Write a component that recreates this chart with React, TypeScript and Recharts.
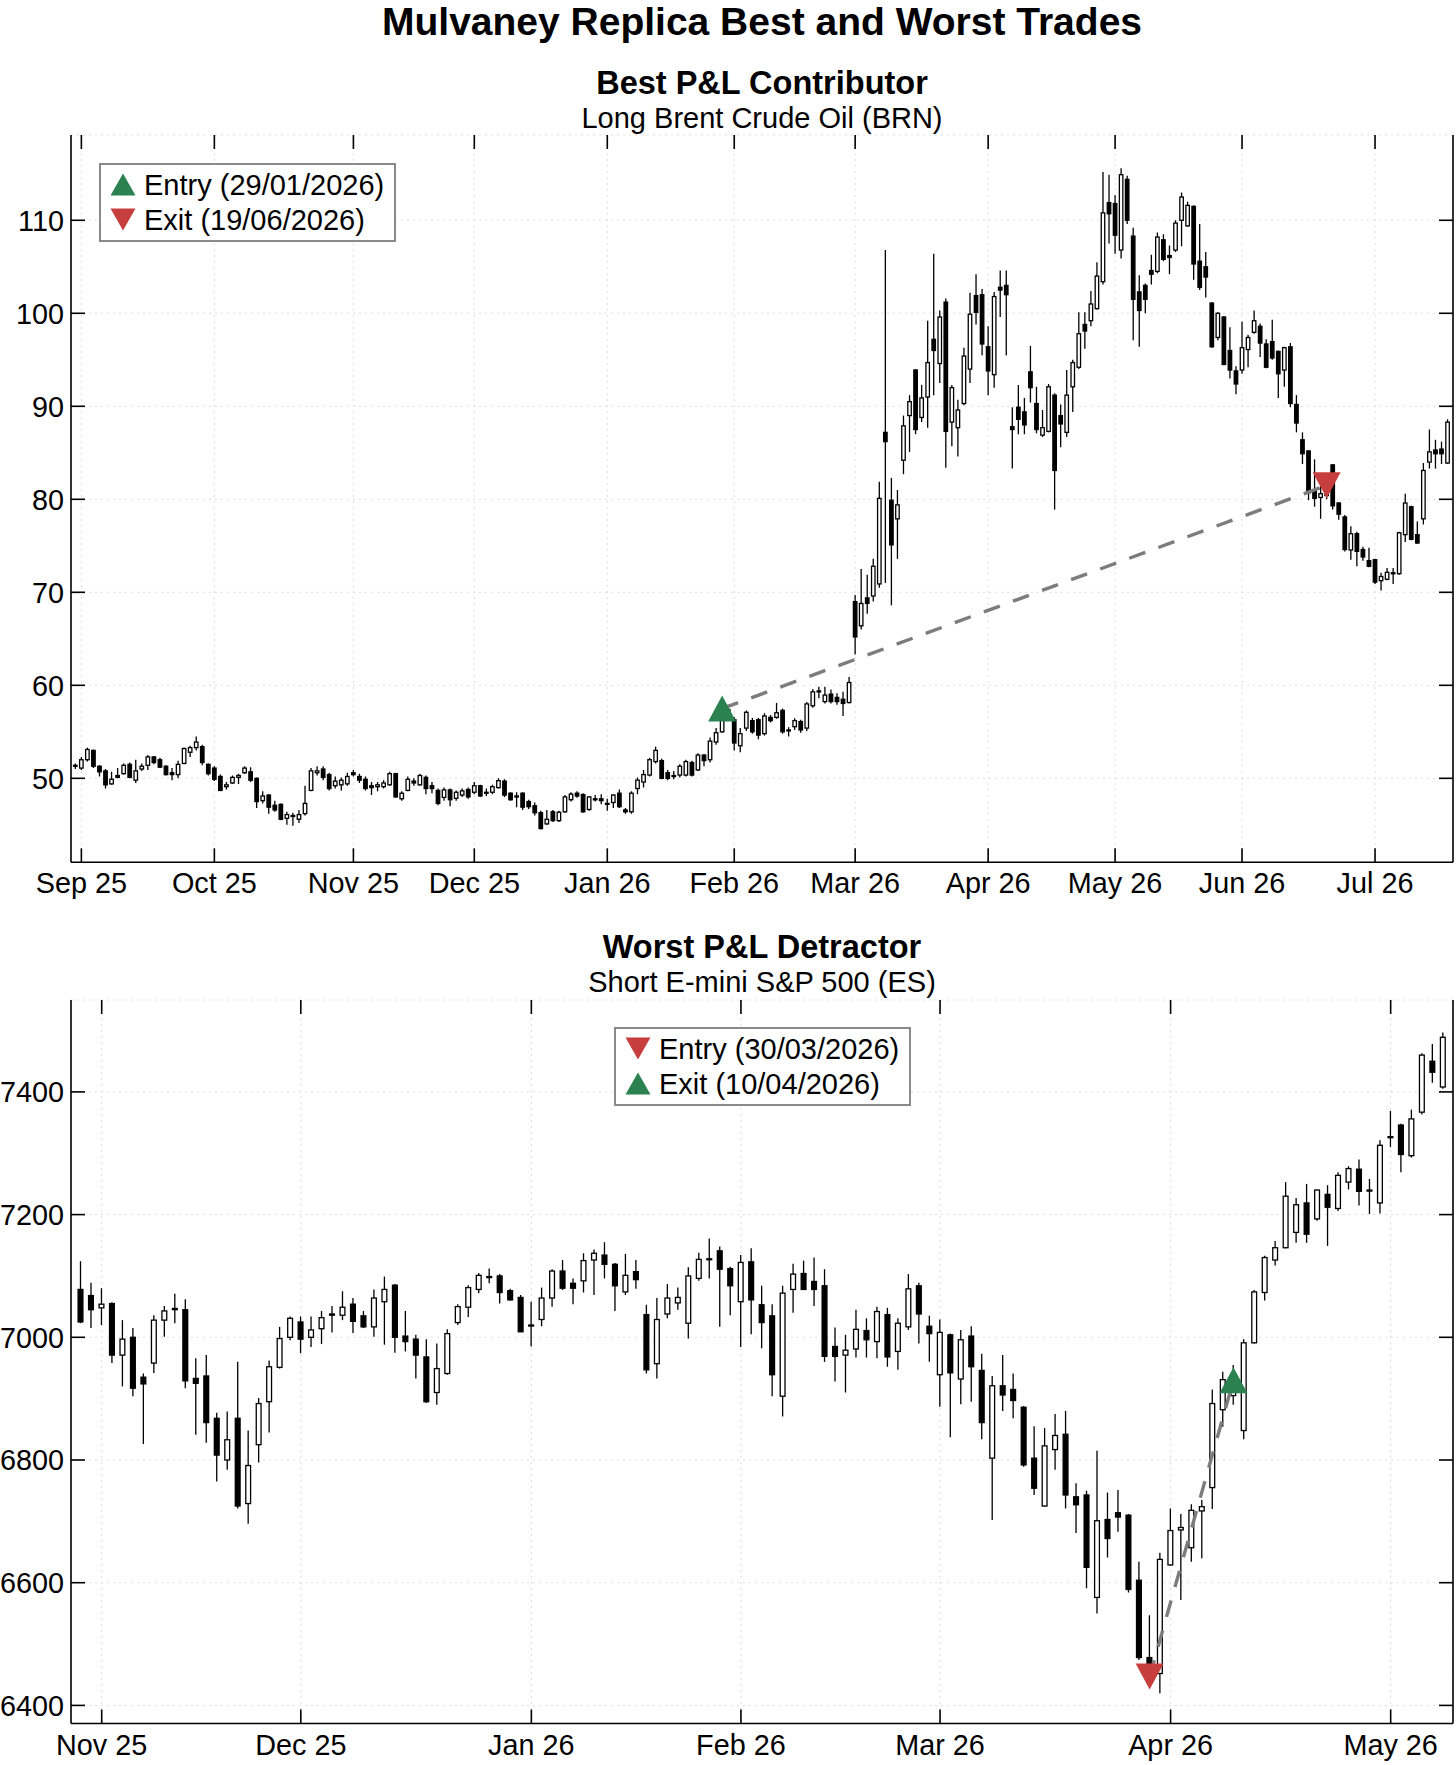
import React from "react";
import { Bar, CartesianGrid, ComposedChart, Legend, Line, XAxis, YAxis } from "recharts";

// [open, high, low, close], one per trading day
type Candle = [number, number, number, number];

const brentCandles: Candle[] = [
  [51.3, 51.6, 51.0, 51.4], [51.1, 52.3, 50.9, 52.0], [52.0, 53.3, 51.8, 53.1], [53.0, 53.1, 51.1, 51.3],
  [51.3, 51.4, 50.2, 50.7], [50.8, 51.0, 48.9, 49.3], [49.4, 50.7, 49.3, 49.9], [50.3, 51.1, 50.0, 50.1],
  [50.5, 51.6, 50.4, 51.4], [51.5, 51.7, 50.0, 50.1], [49.8, 52.0, 49.5, 50.8], [51.0, 51.6, 50.8, 51.3],
  [51.4, 52.5, 50.9, 52.3], [52.3, 52.4, 51.5, 51.7], [52.0, 52.2, 51.1, 51.2], [51.3, 51.4, 50.3, 50.4],
  [50.6, 51.1, 49.8, 50.4], [50.4, 51.9, 50.0, 51.5], [51.6, 53.3, 51.5, 53.2], [52.8, 53.5, 52.3, 53.3],
  [53.3, 54.5, 53.0, 53.9], [53.4, 53.6, 51.4, 51.7], [51.5, 51.6, 50.3, 50.5], [51.1, 51.3, 49.7, 49.9],
  [50.2, 50.4, 48.6, 48.7], [49.1, 49.6, 48.8, 49.3], [49.5, 50.3, 49.4, 50.1], [50.1, 50.5, 49.4, 50.3],
  [50.6, 51.3, 50.5, 51.1], [50.7, 51.2, 49.6, 49.8], [50.0, 50.1, 46.8, 47.5], [47.6, 48.6, 47.3, 48.1],
  [48.2, 48.3, 46.2, 46.9], [47.1, 47.6, 46.4, 46.6], [47.2, 47.3, 45.5, 45.6], [45.7, 46.4, 45.0, 46.1],
  [45.9, 46.3, 44.9, 46.0], [45.6, 46.6, 45.2, 46.1], [46.2, 49.2, 46.0, 47.3], [48.7, 51.1, 48.6, 50.8],
  [50.6, 51.3, 50.3, 50.8], [51.0, 51.3, 49.8, 50.1], [50.4, 50.6, 48.7, 48.9], [49.2, 50.2, 48.9, 49.7],
  [49.3, 50.1, 48.7, 49.8], [49.4, 50.6, 49.2, 50.2], [50.6, 50.9, 50.2, 50.4], [50.2, 50.5, 49.5, 49.8],
  [49.9, 50.2, 48.7, 48.9], [49.2, 49.6, 48.2, 49.0], [49.1, 49.6, 48.6, 49.3], [49.1, 49.8, 48.9, 49.5],
  [49.3, 50.7, 49.2, 50.5], [50.5, 50.6, 47.9, 48.0], [47.8, 48.6, 47.6, 48.4], [48.7, 50.2, 48.6, 49.9],
  [49.7, 50.0, 49.2, 49.5], [49.3, 50.5, 49.2, 50.3], [50.1, 50.3, 48.3, 48.9], [49.2, 49.6, 48.4, 48.9],
  [48.7, 48.9, 47.1, 47.3], [47.95, 49.0, 47.6, 48.75], [48.75, 48.9, 47.0, 47.7], [47.85, 48.7, 47.6, 48.5],
  [48.2, 48.9, 48.0, 48.65], [48.8, 49.0, 47.8, 48.0], [48.5, 49.6, 48.3, 49.2], [49.2, 49.3, 48.0, 48.1],
  [48.4, 48.9, 48.1, 48.5], [48.5, 49.3, 48.3, 49.1], [49.0, 50.0, 48.9, 49.75], [49.7, 49.9, 48.0, 48.2],
  [48.4, 48.5, 47.6, 47.7], [48.1, 48.5, 46.9, 48.0], [48.4, 48.5, 46.6, 46.9], [47.5, 47.7, 46.7, 46.95],
  [47.05, 47.4, 46.0, 46.3], [46.3, 46.5, 44.5, 44.6], [45.1, 46.6, 45.0, 45.6], [46.4, 46.6, 45.3, 45.45],
  [45.45, 46.5, 45.3, 46.35], [46.4, 48.2, 46.3, 48.0], [47.7, 48.5, 47.5, 48.3], [48.4, 48.6, 47.9, 48.1],
  [48.25, 48.4, 46.3, 46.4], [46.65, 48.1, 46.5, 48.0], [47.8, 48.2, 47.5, 47.75], [47.8, 48.3, 47.2, 47.6],
  [47.3, 47.8, 46.5, 47.2], [47.4, 48.3, 46.8, 48.2], [48.4, 48.8, 46.8, 46.95], [46.6, 46.8, 46.2, 46.4],
  [46.4, 48.6, 46.2, 48.4], [48.9, 50.1, 48.3, 49.8], [49.6, 50.9, 49.0, 50.4], [50.35, 52.2, 50.2, 52.0],
  [51.8, 53.4, 51.6, 53.0], [51.9, 52.1, 49.9, 50.0], [50.6, 50.9, 49.8, 50.0], [50.2, 50.8, 49.9, 50.3],
  [50.35, 51.5, 50.1, 51.3], [50.35, 52.0, 50.2, 51.8], [51.7, 51.9, 50.2, 50.35], [50.9, 52.7, 50.8, 52.5],
  [52.5, 52.6, 51.3, 51.9], [52.0, 54.4, 51.7, 54.0], [53.9, 55.4, 53.6, 54.9], [55.0, 56.8, 54.9, 56.45],
  [56.4, 57.9, 56.2, 57.4], [56.3, 56.6, 53.0, 53.8], [53.5, 55.4, 52.8, 54.8], [55.4, 57.3, 55.1, 57.1],
  [56.2, 56.5, 54.8, 55.0], [56.3, 56.5, 54.2, 54.65], [54.8, 57.0, 54.6, 56.7], [56.55, 56.8, 56.0, 56.2],
  [56.55, 58.1, 56.4, 57.05], [57.3, 57.5, 54.8, 55.0], [55.2, 55.5, 54.5, 55.15], [55.55, 56.45, 55.2, 56.2],
  [56.1, 56.3, 54.9, 55.2], [55.4, 58.2, 55.1, 58.0], [57.8, 59.6, 57.6, 59.3], [59.35, 59.85, 58.6, 59.4],
  [58.25, 59.85, 58.05, 58.95], [59.05, 59.55, 58.05, 58.25], [58.7, 59.15, 57.9, 58.25], [58.5, 59.3, 56.7, 58.05],
  [58.15, 60.9, 58.05, 60.3], [69.0, 69.7, 63.3, 65.2], [66.4, 72.5, 66.0, 68.8], [69.4, 71.9, 67.7, 68.8],
  [69.6, 73.6, 69.0, 72.8], [70.9, 81.9, 70.5, 80.1], [87.2, 106.8, 71.0, 86.2], [79.9, 82.3, 68.6, 75.1],
  [77.9, 81.0, 73.6, 79.4], [84.2, 89.0, 82.7, 87.9], [89.0, 91.2, 85.1, 90.5], [93.9, 94.0, 87.0, 87.5],
  [88.8, 92.3, 88.3, 90.9], [91.0, 99.2, 87.7, 94.7], [97.2, 106.4, 91.2, 96.0], [94.6, 100.3, 92.5, 99.6],
  [101.2, 101.6, 83.4, 87.3], [88.3, 92.3, 85.7, 92.0], [87.7, 90.7, 84.6, 89.6], [90.3, 96.3, 90.1, 95.4],
  [94.0, 102.2, 92.5, 99.9], [101.9, 104.2, 98.8, 100.1], [102.0, 102.6, 95.5, 96.7], [96.4, 98.6, 91.2, 93.8],
  [93.4, 102.3, 92.0, 101.8], [102.8, 104.6, 99.6, 102.5], [103.0, 104.6, 95.5, 102.0], [87.8, 89.9, 83.3, 87.5],
  [89.9, 92.3, 87.0, 88.6], [89.4, 90.9, 87.0, 88.0], [93.7, 96.5, 90.4, 92.0], [90.3, 92.1, 87.1, 87.5],
  [86.9, 89.6, 86.7, 87.7], [87.3, 92.4, 87.2, 92.1], [91.2, 91.4, 78.9, 83.1], [89.0, 90.2, 85.6, 88.1],
  [87.2, 93.9, 86.7, 91.2], [92.1, 95.0, 89.4, 94.7], [94.2, 100.1, 94.0, 97.8], [98.8, 100.1, 96.2, 98.1],
  [99.2, 102.4, 98.6, 101.0], [100.5, 105.5, 100.4, 104.0], [103.4, 115.2, 103.1, 110.8], [111.9, 114.9, 107.5, 110.7],
  [111.8, 112.7, 106.4, 108.4], [106.8, 115.6, 105.9, 114.9], [114.4, 114.8, 109.6, 110.0], [108.3, 109.2, 97.1, 101.5],
  [102.3, 104.1, 96.4, 100.3], [103.0, 103.2, 100.0, 101.5], [104.6, 106.3, 103.1, 104.2], [104.5, 108.7, 104.3, 108.2],
  [107.9, 108.5, 105.6, 105.8], [106.2, 107.3, 104.2, 106.0], [106.8, 110.0, 106.6, 109.7], [110.0, 113.0, 107.2, 112.5],
  [109.4, 112.0, 109.3, 111.6], [111.5, 111.6, 103.6, 105.3], [105.6, 109.6, 102.5, 102.8], [105.0, 106.6, 101.7, 103.9],
  [101.1, 101.2, 96.3, 96.4], [97.4, 100.1, 97.1, 100.0], [99.6, 99.7, 94.4, 94.5], [96.0, 98.5, 93.0, 93.9],
  [93.8, 94.3, 91.3, 92.4], [93.9, 99.1, 93.5, 96.3], [96.1, 97.7, 94.2, 97.4], [97.95, 100.3, 97.8, 99.2],
  [98.6, 98.9, 95.3, 96.8], [96.7, 97.2, 94.1, 94.2], [96.95, 99.3, 95.0, 95.2], [95.9, 96.0, 90.9, 93.5],
  [93.9, 96.4, 92.1, 96.3], [96.4, 96.8, 89.9, 90.3], [90.2, 91.2, 87.2, 88.2], [86.4, 87.2, 83.8, 84.9],
  [85.2, 85.3, 79.9, 80.7], [80.9, 84.3, 79.2, 80.1], [80.2, 81.4, 77.9, 80.6], [80.4, 82.2, 80.0, 81.5],
  [83.7, 83.8, 78.9, 79.3], [79.6, 79.7, 77.8, 78.4], [78.1, 78.3, 74.4, 74.6], [74.55, 77.1, 73.5, 76.3],
  [76.3, 76.5, 72.8, 74.4], [74.6, 74.9, 73.4, 73.8], [73.4, 74.8, 72.7, 72.8], [73.5, 73.6, 70.9, 71.1],
  [71.25, 72.1, 70.2, 71.7], [71.4, 72.6, 71.3, 72.15], [72.1, 72.6, 70.9, 72.0], [72.0, 76.5, 71.9, 76.4],
  [76.2, 80.6, 75.4, 79.6], [79.2, 79.3, 75.6, 75.7], [76.2, 77.6, 75.2, 75.3], [77.9, 83.9, 77.3, 83.1],
  [84.0, 87.5, 83.3, 85.1], [85.3, 86.4, 83.3, 84.9], [85.4, 86.2, 83.8, 84.9], [83.9, 88.6, 83.8, 88.3],
];

const esCandles: Candle[] = [
  [7078, 7124, 7023, 7025], [7068, 7089, 7015, 7045], [7048, 7080, 7020, 7054], [7055, 7057, 6958, 6971],
  [6971, 7028, 6920, 6997], [7000, 7015, 6904, 6917], [6935, 6941, 6826, 6924], [6958, 7036, 6942, 7028],
  [7028, 7051, 7001, 7043], [7045, 7071, 7023, 7047], [7045, 7062, 6917, 6929], [6933, 6966, 6841, 6925],
  [6937, 6971, 6828, 6861], [6868, 6877, 6765, 6808], [6800, 6879, 6784, 6833], [6868, 6960, 6721, 6725],
  [6729, 6848, 6696, 6791], [6825, 6901, 6796, 6892], [6895, 6962, 6845, 6952], [6951, 7017, 6949, 6998],
  [7000, 7034, 6995, 7031], [7025, 7034, 6974, 6997], [7000, 7034, 6984, 7012], [7014, 7043, 6989, 7032],
  [7036, 7051, 7008, 7038], [7036, 7075, 7028, 7049], [7054, 7064, 7007, 7026], [7035, 7043, 7015, 7017],
  [7017, 7078, 7001, 7064], [7058, 7099, 6988, 7078], [7085, 7087, 6975, 7000], [7002, 7043, 6977, 6993],
  [6997, 7004, 6933, 6971], [6968, 6997, 6893, 6895], [6910, 6990, 6890, 6949], [6941, 7013, 6939, 7006],
  [7024, 7054, 7020, 7050], [7049, 7085, 7033, 7081], [7078, 7105, 7072, 7101], [7098, 7112, 7088, 7099],
  [7100, 7103, 7055, 7073], [7076, 7079, 7060, 7061], [7065, 7069, 7009, 7009], [7019, 7058, 6985, 7020],
  [7029, 7081, 7018, 7064], [7064, 7111, 7050, 7108], [7108, 7126, 7077, 7080], [7088, 7096, 7054, 7080],
  [7092, 7137, 7073, 7125], [7126, 7143, 7069, 7137], [7134, 7155, 7096, 7119], [7119, 7121, 7043, 7084],
  [7074, 7136, 7069, 7101], [7107, 7126, 7079, 7094], [7037, 7053, 6941, 6947], [6957, 7064, 6933, 7029],
  [7038, 7087, 7031, 7064], [7056, 7081, 7045, 7065], [7023, 7114, 6998, 7100], [7096, 7138, 7092, 7127],
  [7127, 7161, 7096, 7128], [7141, 7148, 7017, 7111], [7112, 7115, 7036, 7084], [7058, 7134, 6984, 7122],
  [7123, 7145, 7005, 7061], [7053, 7084, 6982, 7024], [7035, 7054, 6904, 6939], [6904, 7084, 6871, 7072],
  [7078, 7120, 7040, 7103], [7104, 7125, 7077, 7078], [7091, 7130, 7051, 7078], [7084, 7111, 6960, 6969],
  [6985, 7016, 6928, 6969], [6971, 7004, 6910, 6979], [6981, 7045, 6967, 7013], [7011, 7031, 6967, 6996],
  [6993, 7050, 6966, 7042], [7037, 7048, 6952, 6968], [6977, 7031, 6947, 7023], [7017, 7103, 7012, 7079],
  [7084, 7089, 6990, 7038], [7018, 7035, 6960, 7006], [6939, 7029, 6887, 7008], [7004, 7006, 6837, 6942],
  [6932, 7012, 6891, 6996], [7002, 7018, 6895, 6952], [6946, 6973, 6834, 6861], [6803, 6937, 6702, 6921],
  [6921, 6971, 6880, 6906], [6915, 6941, 6868, 6897], [6886, 6888, 6789, 6792], [6803, 6855, 6743, 6754],
  [6725, 6852, 6724, 6823], [6817, 6875, 6784, 6840], [6842, 6880, 6721, 6743], [6740, 6762, 6681, 6727],
  [6743, 6750, 6591, 6625], [6576, 6815, 6550, 6701], [6703, 6747, 6641, 6672], [6714, 6751, 6683, 6707],
  [6710, 6712, 6584, 6589], [6604, 6634, 6474, 6478], [6478, 6547, 6440, 6455], [6452, 6649, 6420, 6638],
  [6629, 6721, 6628, 6685], [6686, 6712, 6572, 6690], [6657, 6728, 6634, 6718], [6717, 6735, 6640, 6724],
  [6755, 6915, 6720, 6892], [6882, 6944, 6854, 6931], [6905, 6955, 6890, 6935], [6848, 6997, 6834, 6991],
  [6991, 7077, 6990, 7074], [7073, 7133, 7060, 7130], [7126, 7157, 7117, 7146], [7146, 7253, 7145, 7230],
  [7171, 7227, 7154, 7216], [7219, 7250, 7154, 7168], [7193, 7241, 7190, 7240], [7233, 7248, 7149, 7212],
  [7210, 7269, 7206, 7264], [7253, 7279, 7241, 7275], [7274, 7290, 7215, 7238], [7240, 7258, 7201, 7239],
  [7219, 7321, 7202, 7313], [7326, 7369, 7310, 7327], [7346, 7348, 7269, 7298], [7296, 7371, 7293, 7356],
  [7367, 7463, 7363, 7460], [7450, 7478, 7415, 7432], [7408, 7497, 7405, 7489],
];

// month ticks: index of the first trading day of each month
const brentTickIdx = [1, 23, 46, 66, 88, 109, 129, 151, 172, 193, 215];
const brentTickLabels = ["Sep 25", "Oct 25", "Nov 25", "Dec 25", "Jan 26", "Feb 26", "Mar 26", "Apr 26", "May 26", "Jun 26", "Jul 26"];
const brentYTicks = [50, 60, 70, 80, 90, 100, 110];
const brentYDomain = [40.97, 119.17];

const esTickIdx = [2, 21, 43, 63, 82, 104, 125];
const esTickLabels = ["Nov 25", "Dec 25", "Jan 26", "Feb 26", "Mar 26", "Apr 26", "May 26"];
const esYTicks = [6400, 6600, 6800, 7000, 7200, 7400];
const esYDomain = [6370.5, 7549.8];

// trade legs: [candle index, price]
const brentEntry = [107, 57.5];
const brentExit = [207, 81.5];
const esEntry = [102, 6447];
const esExit = [110, 6930];

const FONT = '"Liberation Sans", Arial, Helvetica, sans-serif';
const GREEN = "#2b8150";
const RED = "#c73e3e";
const TICK_LEN = 14;
const PLOT_W = 1382;

type Mark = { dir: "up" | "down"; color: string; label: string };

function tri(cx: number, cy: number, w: number, h: number, dir: "up" | "down") {
  const s = dir === "up" ? 1 : -1;
  return `M${cx},${cy - (s * h) / 2} L${cx - w / 2},${cy + (s * h) / 2} L${cx + w / 2},${cy + (s * h) / 2} Z`;
}

function CandleShape(props: any) {
  const { x, y, width, height, payload, bodyRatio } = props;
  const { o, h, l, c } = payload;
  const hh = Math.abs(height);
  const k = h > l ? hh / (h - l) : 0;
  const yOf = (v: number) => y + (h - v) * k;
  const cx = x + width / 2;
  const top = yOf(Math.max(o, c));
  const bodyH = Math.max(Math.abs(yOf(o) - yOf(c)), 1);
  const bw = width * bodyRatio;
  return (
    <g>
      <line x1={cx} x2={cx} y1={y} y2={y + hh} stroke="#000" strokeWidth={1.3} />
      <rect x={cx - bw / 2} y={top} width={bw} height={bodyH} fill={c >= o ? "#fff" : "#000"} stroke="#000" strokeWidth={1.3} />
    </g>
  );
}

function TradeLegend({ items }: { items: Mark[] }) {
  return (
    <svg width={297} height={79} style={{ display: "block" }}>
      <rect x={1} y={1} width={295} height={77} fill="#fff" stroke="#8a8a8a" strokeWidth={2} />
      {items.map((it, k) => {
        const cy = k === 0 ? 21.5 : 56.5;
        return (
          <g key={k}>
            <path d={tri(24, cy, 25, 22, it.dir)} fill={it.color} />
            <text x={45} y={cy + 10.5} fontSize={29} fontFamily={FONT} fill="#000">
              {it.label}
            </text>
          </g>
        );
      })}
    </svg>
  );
}

function CandlePanel(props: {
  candles: Candle[];
  tickIdx: number[];
  tickLabels: string[];
  yTicks: number[];
  yDomain: number[];
  height: number;
  marginTop: number;
  xAxisHeight: number;
  padLeft: number;
  padRight: number;
  bodyRatio: number;
  entry: number[];
  exit: number[];
  entryMark: Mark;
  exitMark: Mark;
  legendLeft: number;
  legendTop: number;
}) {
  const { candles, tickIdx, tickLabels, entry, exit, entryMark, exitMark } = props;
  const plotH = props.height - props.marginTop - props.xAxisHeight;
  const rows = candles.map(([o, h, l, c], i) => ({
    i,
    o,
    h,
    l,
    c,
    trade: i === entry[0] ? entry[1] : i === exit[0] ? exit[1] : null,
  }));

  const renderXTick = (p: any) => {
    const label = tickLabels[tickIdx.indexOf(p.payload.value)];
    return (
      <g key={`xt${p.payload.value}`}>
        <line x1={p.x} x2={p.x} y1={p.y} y2={p.y - TICK_LEN} stroke="#000" strokeWidth={1.6} />
        <line x1={p.x} x2={p.x} y1={p.y - plotH} y2={p.y - plotH + TICK_LEN} stroke="#000" strokeWidth={1.6} />
        <text x={p.x} y={p.y + 31} textAnchor="middle" fontSize={28.8} fontFamily={FONT} fill="#000">
          {label}
        </text>
      </g>
    );
  };

  const renderYTick = (p: any) => (
    <g key={`yt${p.payload.value}`}>
      <line x1={p.x} x2={p.x + TICK_LEN} y1={p.y} y2={p.y} stroke="#000" strokeWidth={1.6} />
      <line x1={p.x + PLOT_W} x2={p.x + PLOT_W - TICK_LEN} y1={p.y} y2={p.y} stroke="#000" strokeWidth={1.6} />
      <text x={p.x - 7} y={p.y + 10.3} textAnchor="end" fontSize={28.8} fontFamily={FONT} fill="#000">
        {p.payload.value}
      </text>
    </g>
  );

  const renderMark = (p: any) => {
    const m = p.index === entry[0] ? entryMark : p.index === exit[0] ? exitMark : null;
    if (!m || p.cx == null || p.cy == null) return <g key={`d${p.index}`} />;
    return <path key={`d${p.index}`} d={tri(p.cx, p.cy, 28, 26, m.dir)} fill={m.color} />;
  };

  const frame = { stroke: "#000", strokeWidth: 1.6 };

  return (
    <ComposedChart
      width={1456}
      height={props.height}
      data={rows}
      margin={{ top: props.marginTop, right: 0, bottom: 0, left: 0 }}
      barCategoryGap={0}
    >
      <CartesianGrid stroke="#dedede" strokeDasharray="2 4" strokeWidth={1} />
      <XAxis
        dataKey="i"
        type="category"
        ticks={tickIdx}
        interval={0}
        height={props.xAxisHeight}
        padding={{ left: props.padLeft, right: props.padRight }}
        tickSize={0}
        tickMargin={0}
        tickLine={false}
        axisLine={frame}
        tick={renderXTick}
      />
      <XAxis xAxisId="top" orientation="top" height={0} tick={false} tickLine={false} axisLine={frame} />
      <YAxis
        type="number"
        domain={props.yDomain}
        ticks={props.yTicks}
        allowDataOverflow
        width={71}
        tickSize={0}
        tickMargin={0}
        tickLine={false}
        axisLine={frame}
        tick={renderYTick}
      />
      <YAxis
        yAxisId="right"
        orientation="right"
        type="number"
        domain={props.yDomain}
        allowDataOverflow
        width={3}
        tick={false}
        tickLine={false}
        axisLine={frame}
      />
      <Bar
        dataKey={(d: any) => [d.l, d.h]}
        isAnimationActive={false}
        shape={(p: any) => <CandleShape {...p} bodyRatio={props.bodyRatio} />}
      />
      <Line
        dataKey="trade"
        connectNulls
        stroke="#7c7c7c"
        strokeWidth={3.4}
        strokeDasharray="17 14"
        dot={renderMark}
        activeDot={false}
        isAnimationActive={false}
      />
      <Legend
        layout="horizontal"
        verticalAlign="middle"
        align="center"
        wrapperStyle={{ left: props.legendLeft, top: props.legendTop, width: 297, height: 79 }}
        content={() => <TradeLegend items={[entryMark, exitMark]} />}
      />
    </ComposedChart>
  );
}

export default function App() {
  return (
    <div style={{ position: "relative", width: 1456, height: 1765, background: "#fff", fontFamily: FONT, overflow: "hidden" }}>
      <style>{"body{margin:0}"}</style>
      <div style={{ position: "absolute", left: 0, top: 0 }}>
        <CandlePanel
          candles={brentCandles}
          tickIdx={brentTickIdx}
          tickLabels={brentTickLabels}
          yTicks={brentYTicks}
          yDomain={brentYDomain}
          height={930}
          marginTop={135}
          xAxisHeight={67.7}
          padLeft={1.3}
          padRight={2.4}
          bodyRatio={0.58}
          entry={brentEntry}
          exit={brentExit}
          entryMark={{ dir: "up", color: GREEN, label: "Entry (29/01/2026)" }}
          exitMark={{ dir: "down", color: RED, label: "Exit (19/06/2026)" }}
          legendLeft={99}
          legendTop={163}
        />
      </div>
      <div style={{ position: "absolute", left: 0, top: 930 }}>
        <CandlePanel
          candles={esCandles}
          tickIdx={esTickIdx}
          tickLabels={esTickLabels}
          yTicks={esYTicks}
          yDomain={esYDomain}
          height={835}
          marginTop={70}
          xAxisHeight={41.5}
          padLeft={4.5}
          padRight={4.7}
          bodyRatio={0.48}
          entry={esEntry}
          exit={esExit}
          entryMark={{ dir: "down", color: RED, label: "Entry (30/03/2026)" }}
          exitMark={{ dir: "up", color: GREEN, label: "Exit (10/04/2026)" }}
          legendLeft={613.5}
          legendTop={97}
        />
      </div>
      <svg width={1456} height={1765} style={{ position: "absolute", left: 0, top: 0, pointerEvents: "none" }}>
        <g fontFamily={FONT} fill="#000" textAnchor="middle">
          <text x={762} y={35} fontSize={39} fontWeight="bold">
            Mulvaney Replica Best and Worst Trades
          </text>
          <text x={762} y={93.7} fontSize={32.5} fontWeight="bold">
            Best P&amp;L Contributor
          </text>
          <text x={762} y={127.7} fontSize={29}>
            Long Brent Crude Oil (BRN)
          </text>
          <text x={762} y={958} fontSize={32.5} fontWeight="bold">
            Worst P&amp;L Detractor
          </text>
          <text x={762} y={992} fontSize={29}>
            Short E-mini S&amp;P 500 (ES)
          </text>
        </g>
      </svg>
    </div>
  );
}
